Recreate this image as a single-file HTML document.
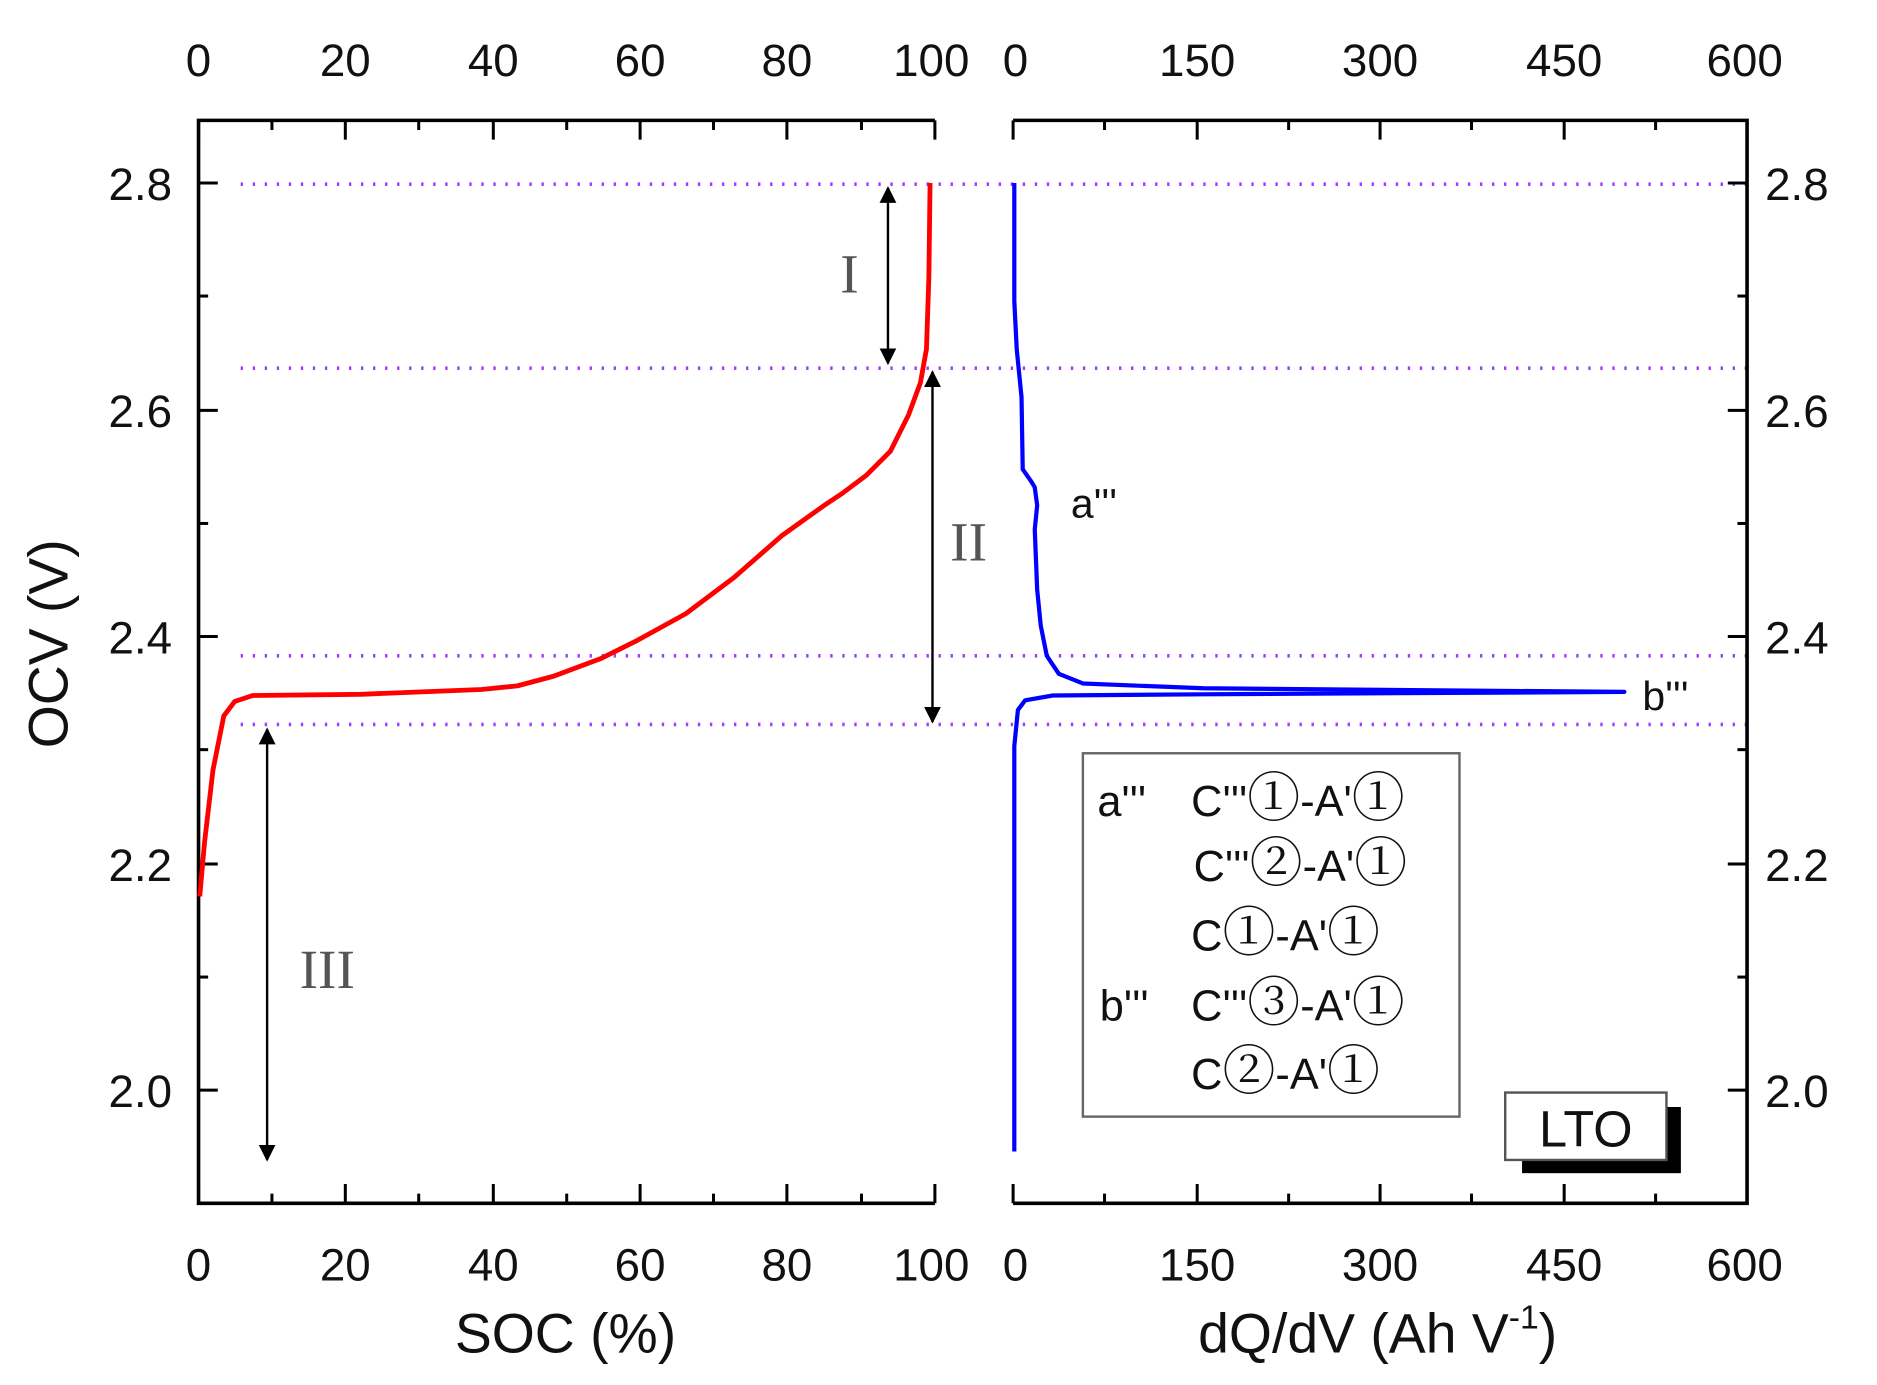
<!DOCTYPE html>
<html><head><style>html,body{margin:0;padding:0;background:#fff}svg{display:block}</style></head><body>
<svg width="1877" height="1385" viewBox="0 0 1560 1151" xmlns="http://www.w3.org/2000/svg" font-family="'Liberation Sans',Arial,sans-serif">
<rect width="1560" height="1151" fill="#fff"/>
<g stroke="#a040ff" stroke-width="3" stroke-dasharray="2 8" fill="none">
<line x1="200" y1="153" x2="1452" y2="153"/><line x1="200" y1="306" x2="1452" y2="306"/>
<line x1="200" y1="545" x2="1452" y2="545"/><line x1="200" y1="602" x2="1452" y2="602"/>
</g>
<g stroke="#000" stroke-width="3" fill="none">
<polyline points="777,100 165,100 165,1000 777,1000"/>
<polyline points="842,100 1452,100 1452,1000 842,1000"/>
</g>
<g stroke="#000" stroke-width="2.5">
<line x1="165" y1="100" x2="165" y2="116"/><line x1="226" y1="100" x2="226" y2="108"/><line x1="287" y1="100" x2="287" y2="116"/><line x1="348" y1="100" x2="348" y2="108"/><line x1="410" y1="100" x2="410" y2="116"/><line x1="471" y1="100" x2="471" y2="108"/><line x1="532" y1="100" x2="532" y2="116"/><line x1="593" y1="100" x2="593" y2="108"/><line x1="654" y1="100" x2="654" y2="116"/><line x1="716" y1="100" x2="716" y2="108"/><line x1="777" y1="100" x2="777" y2="116"/>
<line x1="165" y1="1000" x2="165" y2="984"/><line x1="226" y1="1000" x2="226" y2="992"/><line x1="287" y1="1000" x2="287" y2="984"/><line x1="348" y1="1000" x2="348" y2="992"/><line x1="410" y1="1000" x2="410" y2="984"/><line x1="471" y1="1000" x2="471" y2="992"/><line x1="532" y1="1000" x2="532" y2="984"/><line x1="593" y1="1000" x2="593" y2="992"/><line x1="654" y1="1000" x2="654" y2="984"/><line x1="716" y1="1000" x2="716" y2="992"/><line x1="777" y1="1000" x2="777" y2="984"/>
<line x1="842" y1="100" x2="842" y2="116"/><line x1="918" y1="100" x2="918" y2="108"/><line x1="995" y1="100" x2="995" y2="116"/><line x1="1071" y1="100" x2="1071" y2="108"/><line x1="1147" y1="100" x2="1147" y2="116"/><line x1="1223" y1="100" x2="1223" y2="108"/><line x1="1300" y1="100" x2="1300" y2="116"/><line x1="1376" y1="100" x2="1376" y2="108"/><line x1="1452" y1="100" x2="1452" y2="116"/>
<line x1="842" y1="1000" x2="842" y2="984"/><line x1="918" y1="1000" x2="918" y2="992"/><line x1="995" y1="1000" x2="995" y2="984"/><line x1="1071" y1="1000" x2="1071" y2="992"/><line x1="1147" y1="1000" x2="1147" y2="984"/><line x1="1223" y1="1000" x2="1223" y2="992"/><line x1="1300" y1="1000" x2="1300" y2="984"/><line x1="1376" y1="1000" x2="1376" y2="992"/>
<line x1="165" y1="152" x2="181" y2="152"/><line x1="165" y1="246" x2="173" y2="246"/><line x1="165" y1="341" x2="181" y2="341"/><line x1="165" y1="435" x2="173" y2="435"/><line x1="165" y1="529" x2="181" y2="529"/><line x1="165" y1="623" x2="173" y2="623"/><line x1="165" y1="718" x2="181" y2="718"/><line x1="165" y1="812" x2="173" y2="812"/><line x1="165" y1="906" x2="181" y2="906"/>
<line x1="1452" y1="152" x2="1436" y2="152"/><line x1="1452" y1="246" x2="1444" y2="246"/><line x1="1452" y1="341" x2="1436" y2="341"/><line x1="1452" y1="435" x2="1444" y2="435"/><line x1="1452" y1="529" x2="1436" y2="529"/><line x1="1452" y1="623" x2="1444" y2="623"/><line x1="1452" y1="718" x2="1436" y2="718"/><line x1="1452" y1="812" x2="1444" y2="812"/><line x1="1452" y1="906" x2="1436" y2="906"/>
</g>
<g font-size="38" fill="#111" text-anchor="middle">
<text x="165" y="63">0</text><text x="287" y="63">20</text><text x="410" y="63">40</text><text x="532" y="63">60</text><text x="654" y="63">80</text><text x="774" y="63">100</text>
<text x="844" y="63">0</text><text x="995" y="63">150</text><text x="1147" y="63">300</text><text x="1300" y="63">450</text><text x="1450" y="63">600</text>
<text x="165" y="1064">0</text><text x="287" y="1064">20</text><text x="410" y="1064">40</text><text x="532" y="1064">60</text><text x="654" y="1064">80</text><text x="774" y="1064">100</text>
<text x="844" y="1064">0</text><text x="995" y="1064">150</text><text x="1147" y="1064">300</text><text x="1300" y="1064">450</text><text x="1450" y="1064">600</text>
</g>
<g font-size="38" fill="#111" text-anchor="end">
<text x="143" y="166">2.8</text><text x="143" y="355">2.6</text><text x="143" y="543">2.4</text><text x="143" y="732">2.2</text><text x="143" y="920">2.0</text>
</g>
<g font-size="38" fill="#111">
<text x="1467" y="166">2.8</text><text x="1467" y="355">2.6</text><text x="1467" y="543">2.4</text><text x="1467" y="732">2.2</text><text x="1467" y="920">2.0</text>
</g>
<text x="470" y="1124" font-size="46" text-anchor="middle" fill="#111">SOC (%)</text>
<text x="1145" y="1124" font-size="46" text-anchor="middle" fill="#111">dQ/dV (Ah V<tspan font-size="28" dy="-20">-1</tspan><tspan dy="20">)</tspan></text>
<text transform="translate(56,535) rotate(-90)" font-size="46" text-anchor="middle" fill="#111">OCV (V)</text>
<polyline fill="none" stroke="#f00" stroke-width="4" stroke-linejoin="round" points="166,745 170,700 177,640 186,595 195,583 210,578 300,577 400,573 430,570 460,562 500,547 530,532 570,510 610,480 650,445 685,420 700,410 720,395 740,375 755,345 765,318 770,290 772,230 773,152"/>
<polyline fill="none" stroke="#00f" stroke-width="3.5" stroke-linejoin="round" points="843,957 843,620 846,590 852,582 875,578 1000,577 1350,575 1000,572 900,568 880,560 870,545 865,520 862,490 860,440 862,420 860,405 857,400 850,390 849,330 845,290 843,250 843,152"/>
<defs><marker id="a" viewBox="0 0 10 10" refX="9" refY="5" markerWidth="7" markerHeight="7" orient="auto-start-reverse"><path d="M0,0 L10,5 L0,10 z" fill="#000"/></marker></defs>
<g stroke="#000" stroke-width="2">
<line x1="738" y1="156" x2="738" y2="302" marker-start="url(#a)" marker-end="url(#a)"/>
<line x1="775" y1="309" x2="775" y2="600" marker-start="url(#a)" marker-end="url(#a)"/>
<line x1="222" y1="606" x2="222" y2="964" marker-start="url(#a)" marker-end="url(#a)"/>
</g>
<g font-family="'Liberation Serif',serif" font-size="46" fill="#555" text-anchor="middle">
<text x="706" y="243">I</text><text x="805" y="466">II</text><text x="272" y="821">III</text>
</g>
<text x="890" y="430" font-size="34" fill="#111">a'''</text>
<text x="1365" y="590" font-size="34" fill="#111">b'''</text>
<rect x="900" y="626" width="313" height="302" fill="#fff" stroke="#666" stroke-width="2"/>
<g font-size="36" fill="#111" font-family="'Liberation Sans','Noto Serif CJK SC',sans-serif">
<text x="912" y="678">a'''</text><text x="990" y="678">C'''<tspan font-size="44" font-family="'Noto Serif CJK SC',serif">①</tspan>-A'<tspan font-size="44" font-family="'Noto Serif CJK SC',serif">①</tspan></text>
<text x="992" y="732">C'''<tspan font-size="44" font-family="'Noto Serif CJK SC',serif">②</tspan>-A'<tspan font-size="44" font-family="'Noto Serif CJK SC',serif">①</tspan></text>
<text x="990" y="790">C<tspan font-size="44" font-family="'Noto Serif CJK SC',serif">①</tspan>-A'<tspan font-size="44" font-family="'Noto Serif CJK SC',serif">①</tspan></text>
<text x="914" y="848">b'''</text><text x="990" y="848">C'''<tspan font-size="44" font-family="'Noto Serif CJK SC',serif">③</tspan>-A'<tspan font-size="44" font-family="'Noto Serif CJK SC',serif">①</tspan></text>
<text x="990" y="905">C<tspan font-size="44" font-family="'Noto Serif CJK SC',serif">②</tspan>-A'<tspan font-size="44" font-family="'Noto Serif CJK SC',serif">①</tspan></text>
</g>
<rect x="1265" y="920" width="132" height="55" fill="#000"/>
<rect x="1251" y="908" width="134" height="56" fill="#fff" stroke="#555" stroke-width="2"/>
<text x="1318" y="953" font-size="42" text-anchor="middle" fill="#111">LTO</text>
</svg>
</body></html>
